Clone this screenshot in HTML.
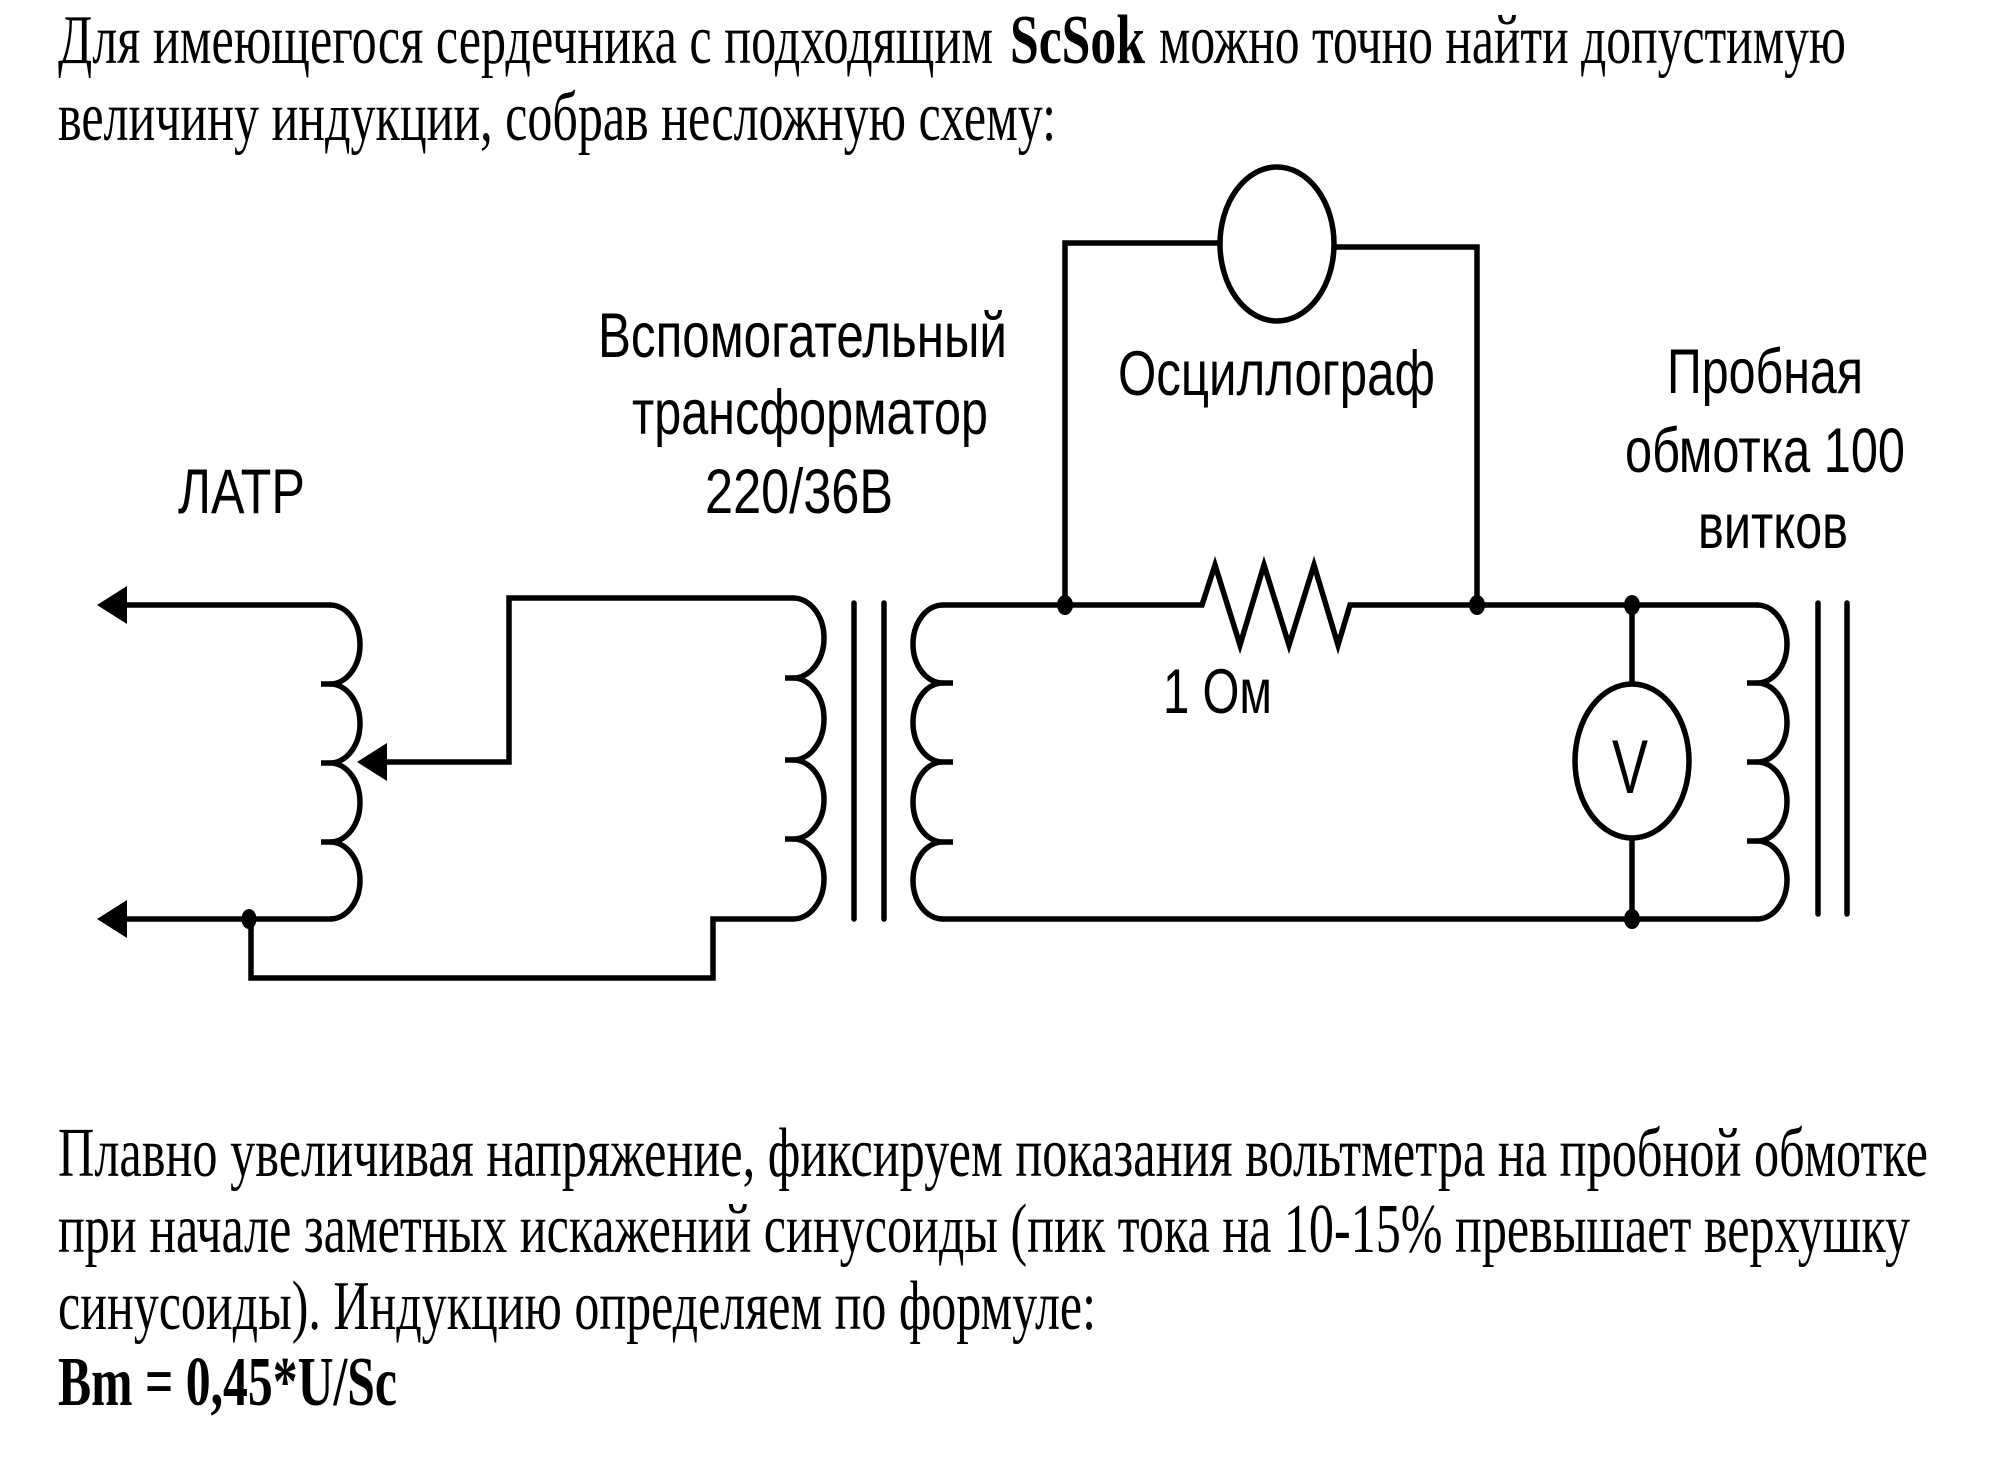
<!DOCTYPE html>
<html>
<head>
<meta charset="utf-8">
<style>
html,body{margin:0;padding:0;background:#fff;}
svg{display:block;}
.serif{font-family:"Liberation Serif","Noto Serif CJK SC",serif;font-size:70px;fill:#000;}
.sans{font-family:"Liberation Sans","Noto Sans CJK SC",sans-serif;font-size:63px;fill:#000;}
</style>
</head>
<body>
<svg width="1994" height="1467" viewBox="0 0 1994 1467" xmlns="http://www.w3.org/2000/svg">
<rect width="1994" height="1467" fill="#fff"/>

<!-- Top text -->
<text class="serif" x="58" y="63" textLength="935" lengthAdjust="spacingAndGlyphs">Для имеющегося сердечника с подходящим</text>
<text class="serif" x="1010" y="63" textLength="135" lengthAdjust="spacingAndGlyphs" font-weight="bold">ScSok</text>
<text class="serif" x="1159" y="63" textLength="687" lengthAdjust="spacingAndGlyphs">можно точно найти допустимую</text>
<text class="serif" x="58" y="140" textLength="998" lengthAdjust="spacingAndGlyphs">величину индукции, собрав несложную схему:</text>

<!-- Labels -->
<text class="sans" x="178" y="513" textLength="127" lengthAdjust="spacingAndGlyphs">ЛАТР</text>
<text class="sans" x="598" y="357" textLength="409" lengthAdjust="spacingAndGlyphs">Вспомогательный</text>
<text class="sans" x="632" y="434" textLength="356" lengthAdjust="spacingAndGlyphs">трансформатор</text>
<text class="sans" x="705" y="513" textLength="188" lengthAdjust="spacingAndGlyphs">220/36В</text>
<text class="sans" x="1118" y="395" textLength="317" lengthAdjust="spacingAndGlyphs">Осциллограф</text>
<text class="sans" x="1667" y="393" textLength="196" lengthAdjust="spacingAndGlyphs">Пробная</text>
<text class="sans" x="1625" y="472" textLength="280" lengthAdjust="spacingAndGlyphs">обмотка 100</text>
<text class="sans" x="1698" y="548" textLength="150" lengthAdjust="spacingAndGlyphs">витков</text>
<text class="sans" x="1163" y="713" textLength="109" lengthAdjust="spacingAndGlyphs">1 Ом</text>
<text class="sans" x="1612" y="793" textLength="36" lengthAdjust="spacingAndGlyphs" style="font-size:76px">V</text>

<g fill="none" stroke="#000" stroke-width="5.5" stroke-linejoin="miter">
  <!-- LATR wires -->
  <line x1="120" y1="605" x2="331" y2="605"/>
  <line x1="120" y1="919" x2="331" y2="919"/>
  <!-- LATR coil -->
  <path d="M330,605 A30,39.5 0 0 1 330,684 A30,39.5 0 0 1 330,763 A30,39.5 0 0 1 330,842 A30,38.5 0 0 1 330,919"/>
  <path d="M321,684 L331,684 M321,763 L331,763 M321,842 L331,842"/>
  <!-- wiper -->
  <polyline points="380,762 509,762 509,598 794,598"/>
  <!-- lower loop -->
  <polyline points="251,919 251,978 713,978 713,919 794,919"/>
  <!-- primary coil -->
  <path d="M793,598 A31,40 0 0 1 793,678 A31,41 0 0 1 793,760 A31,39.5 0 0 1 793,839 A31,40 0 0 1 793,919"/>
  <path d="M785,678 L794,678 M785,760 L794,760 M785,839 L794,839"/>
  <!-- core lines -->
  <line x1="854" y1="603" x2="854" y2="919" stroke-linecap="round"/>
  <line x1="884" y1="603" x2="884" y2="919" stroke-linecap="round"/>
  <!-- secondary coil -->
  <path d="M943,605 A30,39 0 0 0 943,683 A30,39.5 0 0 0 943,762 A30,40 0 0 0 943,842 A30,38.5 0 0 0 943,919"/>
  <path d="M942,683 L953,683 M942,762 L953,762 M942,842 L953,842"/>
  <!-- secondary top wire with resistor -->
  <polyline points="942,605 1202,605 1215,565 1240,645 1264,565 1289,645 1314,565 1338,645 1350,605 1758,605"/>
  <!-- secondary bottom wire -->
  <line x1="942" y1="919" x2="1758" y2="919"/>
  <!-- oscilloscope loop -->
  <polyline points="1065,605 1065,243 1221,243"/>
  <polyline points="1333,247 1477,247 1477,605"/>
  <ellipse cx="1277" cy="244" rx="57" ry="77"/>
  <!-- voltmeter -->
  <line x1="1632" y1="605" x2="1632" y2="684"/>
  <line x1="1632" y1="838" x2="1632" y2="919"/>
  <ellipse cx="1632" cy="761" rx="57" ry="77"/>
  <!-- test coil -->
  <path d="M1757,605 A30,39 0 0 1 1757,683 A30,39.5 0 0 1 1757,762 A30,39.5 0 0 1 1757,841 A30,39 0 0 1 1757,919"/>
  <path d="M1747,683 L1758,683 M1747,762 L1758,762 M1747,841 L1758,841"/>
  <line x1="1818" y1="603" x2="1818" y2="914" stroke-linecap="round"/>
  <line x1="1847" y1="603" x2="1847" y2="914" stroke-linecap="round"/>
</g>

<!-- arrowheads -->
<g fill="#000">
  <polygon points="97,605 127,586 127,624"/>
  <polygon points="97,919 127,900 127,938"/>
  <polygon points="357,762 387,743 387,781"/>
  <!-- junction dots -->
  <ellipse cx="249" cy="919" rx="7.5" ry="10"/>
  <ellipse cx="1065" cy="605" rx="8" ry="10"/>
  <ellipse cx="1477" cy="605" rx="8" ry="10"/>
  <ellipse cx="1632" cy="605" rx="8" ry="10"/>
  <ellipse cx="1632" cy="919" rx="8" ry="10"/>
</g>

<!-- Bottom text -->
<text class="serif" x="58" y="1176" textLength="1870" lengthAdjust="spacingAndGlyphs">Плавно увеличивая напряжение, фиксируем показания вольтметра на пробной обмотке</text>
<text class="serif" x="58" y="1252" textLength="1852" lengthAdjust="spacingAndGlyphs">при начале заметных искажений синусоиды (пик тока на 10-15% превышает верхушку</text>
<text class="serif" x="58" y="1329" textLength="1038" lengthAdjust="spacingAndGlyphs">синусоиды). Индукцию определяем по формуле:</text>
<text class="serif" x="58" y="1405" textLength="339" lengthAdjust="spacingAndGlyphs" font-weight="bold">Bm = 0,45*U/Sc</text>
</svg>
</body>
</html>
